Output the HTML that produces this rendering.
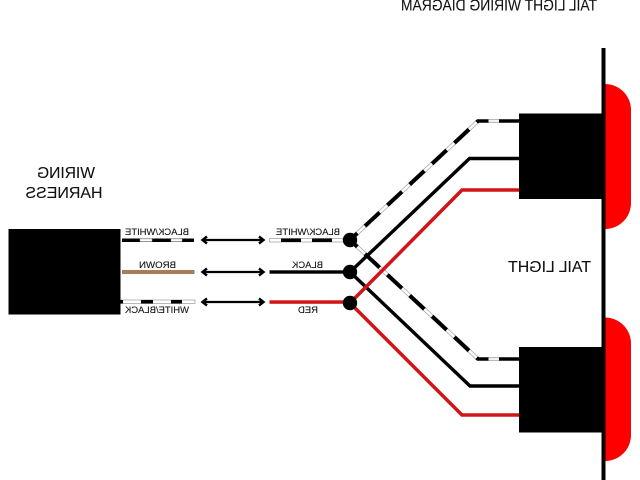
<!DOCTYPE html>
<html><head><meta charset="utf-8"><style>
html,body{margin:0;padding:0;background:#fff}
svg{display:block}
text{font-family:"Liberation Sans",sans-serif;fill:#111;text-anchor:middle}
.b{font-size:16px;stroke:#111;stroke-width:.1px}.s{font-size:9.500px;stroke:#111;stroke-width:.1px}
.t{font-size:15.500px;stroke:#111;stroke-width:.1px}
</style></head><body>
<svg width="640" height="480" viewBox="0 0 640 480" xmlns="http://www.w3.org/2000/svg">
<defs>
<g id="arr" fill="none" stroke="#000" stroke-width="2.200">
<path d="M204 0H262"/>
<path d="M207 -3.500L202.500 0L207 3.500M259 -3.500L263.500 0L259 3.500" stroke-width="2.400"/>
</g>
</defs>
<path d="M604 84H605A26 26 0 0 1 631 110V203A26 26 0 0 1 605 229H604Z" fill="#fe0000"/>
<path d="M604 317.500H605A26 26 0 0 1 631 343.500V435A26 26 0 0 1 605 461H604Z" fill="#fe0000"/>
<rect x="8.500" y="229" width="112" height="85.500" fill="#000"/>
<rect x="519" y="113.500" width="84" height="85.500" fill="#000"/>
<rect x="519" y="347" width="84" height="85.500" fill="#000"/>
<rect x="601.500" y="48" width="4" height="432" fill="#000"/>

<g fill="none">
<path d="M350 240L478 121M350 240L478 359" stroke="#aaa" stroke-width="4"/>
<path d="M350 240L478 121M350 240L478 359" stroke="#fff" stroke-width="2.400"/>
<path d="M350 240L478 121" stroke="#000" stroke-width="4" stroke-dasharray="20 10.500" stroke-dashoffset="-20.500"/>
<path d="M350 240L478 359" stroke="#000" stroke-width="4" stroke-dasharray="20 10.500" stroke-dashoffset="-20.500"/>
<path d="M477 121H519M477 359H519" stroke="#000" stroke-width="3.400"/>
<path d="M488.500 121H499M488.500 359H499" stroke="#ccc" stroke-width="3.400"/>
<path d="M488.500 121H499M488.500 359H499" stroke="#fff" stroke-width="1.500"/>
<path d="M350 272L469.500 158.500H519M350 272L470 386H519" stroke="#000" stroke-width="3.400"/>
<path d="M350 303L462 190H519M350 303L462 415H519" stroke="#d01418" stroke-width="3.500"/>
</g>

<rect x="122" y="238.500" width="72" height="3.500" fill="#000"/>
<path d="M140 239h12v2.500h-12zM171 239h11v2.500h-11z" fill="#fff" stroke="#aaa" stroke-width=".5"/>
<rect x="122" y="270" width="72.500" height="4" fill="#a67c5b"/>
<rect x="121" y="300" width="74" height="3.500" fill="#fff" stroke="#999" stroke-width=".7"/>
<path d="M120 300h3v3.500h-3zM141 300h12v3.500h-12zM171 300h11v3.500h-11z" fill="#000"/>

<rect x="269.500" y="238.500" width="81" height="3.500" fill="#fff" stroke="#999" stroke-width=".7"/>
<path d="M281 238.500h20v3.500h-20zM312 238.500h20v3.500h-20zM343 238.500h7v3.500h-7z" fill="#000"/>
<rect x="269.500" y="270.300" width="81" height="3.400" fill="#000"/>
<rect x="269.500" y="300.300" width="81" height="3.500" fill="#d01418"/>

<use href="#arr" y="240"/>
<use href="#arr" y="272"/>
<use href="#arr" y="302"/>

<circle cx="350" cy="240" r="7.200" fill="#000"/>
<circle cx="350" cy="272" r="7.200" fill="#000"/>
<circle cx="350" cy="303" r="7.200" fill="#000"/>

<g transform="scale(-1,1)">
<text class="t" x="-499" y="10.500" textLength="196" lengthAdjust="spacingAndGlyphs">TAIL LIGHT WIRING DIAGRAM</text>
<text class="b" x="-66" y="178" textLength="58" lengthAdjust="spacingAndGlyphs">WIRING</text>
<text class="b" x="-64" y="198" textLength="77" lengthAdjust="spacingAndGlyphs">HARNESS</text>
<text class="b" x="-549.500" y="272" textLength="83" lengthAdjust="spacingAndGlyphs">TAIL LIGHT</text>
<text class="s" x="-157" y="235" textLength="64" lengthAdjust="spacingAndGlyphs">BLACK/WHITE</text>
<text class="s" x="-157.500" y="268" textLength="37" lengthAdjust="spacingAndGlyphs">BROWN</text>
<text class="s" x="-157" y="313" textLength="64" lengthAdjust="spacingAndGlyphs">WHITE/BLACK</text>
<text class="s" x="-308" y="235" textLength="64" lengthAdjust="spacingAndGlyphs">BLACK/WHITE</text>
<text class="s" x="-307.500" y="268" textLength="31" lengthAdjust="spacingAndGlyphs">BLACK</text>
<text class="s" x="-308" y="313" textLength="20" lengthAdjust="spacingAndGlyphs">RED</text>
</g>
</svg>
</body></html>
